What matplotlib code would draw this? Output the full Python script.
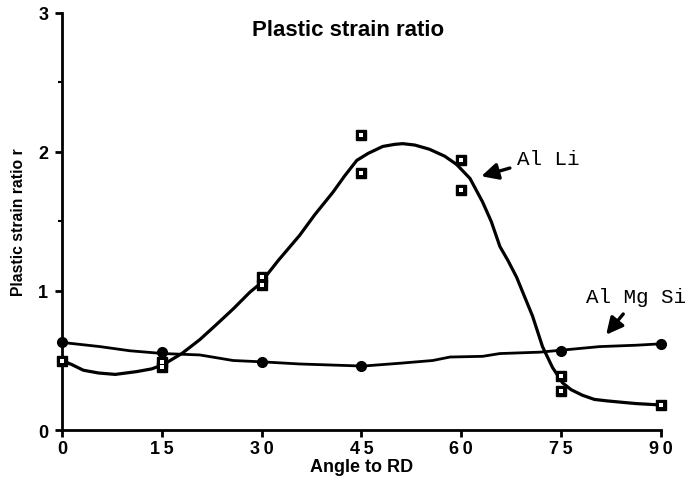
import matplotlib
matplotlib.use("Agg")
import matplotlib.pyplot as plt

plt.rcParams["font.family"] = ["Liberation Sans", "DejaVu Sans"]

# measured points
angle_li = [0, 15, 15, 30, 30, 45, 45, 60, 60, 75, 75, 90]
r_li = [0.50, 0.49, 0.45, 1.10, 1.04, 2.12, 1.85, 1.94, 1.73, 0.39, 0.28, 0.18]

angle_mg = [0, 15, 30, 45, 75, 90]
r_mg = [0.63, 0.56, 0.49, 0.46, 0.57, 0.62]

# hand-drawn fit curves
curve_li_x = [0, 1.5, 3.2, 5.5, 8, 11.2, 13.5, 15.2, 18, 20.7, 23, 25.7, 28.2, 29.7, 32.5,
              35.7, 38, 40.7, 42.5, 44.3, 46, 48.2, 50, 51.2, 53, 55.2, 57.5, 59.3, 61.3,
              63.2, 64.5, 65.8, 67, 68.3, 69.5, 70.7, 72.2, 73.7, 75.2, 76.5, 78.2, 80,
              81.8, 84, 86.3, 90]
curve_li_y = [0.50, 0.47, 0.43, 0.41, 0.40, 0.42, 0.44, 0.47, 0.55, 0.65, 0.75, 0.87, 0.99,
              1.05, 1.22, 1.40, 1.55, 1.71, 1.83, 1.94, 1.99, 2.04, 2.055, 2.06, 2.05,
              2.02, 1.97, 1.91, 1.81, 1.64, 1.50, 1.32, 1.22, 1.10, 0.96, 0.82, 0.60,
              0.45, 0.34, 0.29, 0.25, 0.22, 0.21, 0.20, 0.19, 0.18]

curve_mg_x = [0, 5.7, 10.2, 15.2, 20.7, 25.7, 30.2, 35.7, 45.2, 50.7, 55.7, 58.3, 63.2,
              65.8, 71.8, 75.2, 80.8, 86.3, 90]
curve_mg_y = [0.63, 0.60, 0.57, 0.55, 0.54, 0.50, 0.49, 0.475, 0.46, 0.48, 0.50, 0.525, 0.53,
              0.55, 0.56, 0.575, 0.60, 0.61, 0.62]

x_ticks = [0, 15, 30, 45, 60, 75, 90]
y_ticks = [0, 1, 2, 3]

fig = plt.figure(figsize=(6.9, 4.89), dpi=100)
ax = fig.add_axes([0.0899, 0.1186, 0.868, 0.8528])

ax.plot(curve_li_x, curve_li_y, color="black", lw=2.3, clip_on=False)
ax.plot(curve_mg_x, curve_mg_y, color="black", lw=2.0, clip_on=False)

ax.plot(angle_li, r_li, "s", color="black", ms=7, clip_on=False, zorder=4)
ax.plot(angle_li, r_li, "s", color="white", ms=2.6, mew=0, clip_on=False, zorder=5)
ax.plot(angle_mg, r_mg, "o", color="black", ms=7, clip_on=False, zorder=4)

ax.set_xlim(0, 90)
ax.set_ylim(0, 3)
ax.set_xticks(x_ticks)
ax.set_yticks(y_ticks)
ax.set_yticks([0.5, 1.5, 2.5], minor=True)
ax.set_xticklabels(["\u2009".join(str(t)) for t in x_ticks], fontsize=13, fontweight="bold")
ax.set_yticklabels([str(t) for t in y_ticks], fontsize=13, fontweight="bold")
ax.tick_params(axis="both", which="major", length=5, width=2, direction="out", pad=5)
ax.tick_params(axis="x", which="major", pad=2)
ax.tick_params(axis="y", which="minor", length=3, width=1.5, direction="out")

for s in ["top", "right"]:
    ax.spines[s].set_visible(False)
for s in ["left", "bottom"]:
    ax.spines[s].set_linewidth(2)

fig.text(0.504, 0.938, "Plastic strain ratio", fontsize=16, fontweight="bold",
         ha="center", va="center")
ax.set_xlabel("Angle to RD", fontsize=13, fontweight="bold", labelpad=1)
ax.set_ylabel("Plastic strain ratio r", fontsize=11.3, fontweight="bold", labelpad=9)

mono = ["Liberation Mono", "DejaVu Sans Mono"]
arrow = dict(arrowstyle="-|>,head_length=1.0,head_width=0.5", color="black", lw=2.4)
ax.text(68.3, 1.95, "Al Li", fontsize=15, family=mono, va="center", ha="left")
ax.annotate("", xy=(62.6, 1.82), xytext=(67.7, 1.89), arrowprops=arrow)
ax.text(78.8, 0.96, "Al Mg Si", fontsize=15, family=mono, va="center", ha="left", clip_on=False)
ax.annotate("", xy=(81.5, 0.67), xytext=(84.6, 0.85), arrowprops=arrow)

fig.savefig("out.png", dpi=100)
